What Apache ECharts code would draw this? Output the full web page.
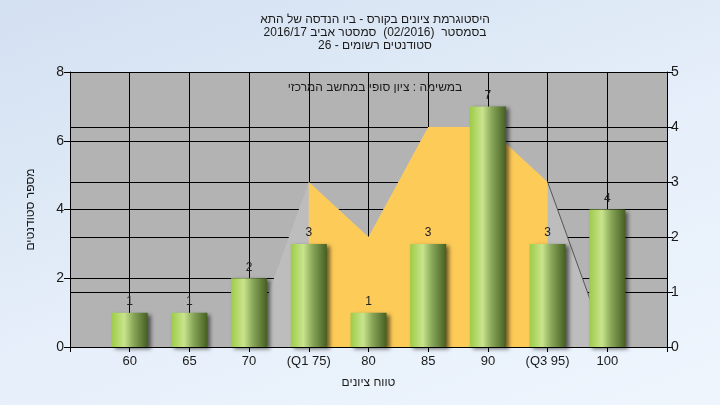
<!DOCTYPE html>
<html>
<head>
<meta charset="utf-8">
<script src="https://cdn.jsdelivr.net/npm/echarts@6/dist/echarts.min.js"></script>
<style>
html,body{margin:0;padding:0;}
#c{width:720px;height:405px;background:linear-gradient(160deg,#d3e0f1 0%,#e6effa 55%,#eef5fd 100%);}
</style>
</head>
<body>
<div id="c"></div>
<script>
var categories = ["", "60", "65", "70", "(Q1 75)", "80", "85", "90", "(Q3 95)", "100", ""];
var counts = ["-", 1, 1, 2, 3, 1, 3, 7, 3, 4, "-"];
var iqrArea = ["-", "-", "-", "-", 3, 2, 4, 4, 3, "-", "-"];
var rangeArea = ["-", "-", "-", 0, 3, 2, 4, 4, 3, 0, "-"];
var rangeEdge = ["-", "-", "-", "-", "-", "-", "-", "-", 3, 0, "-"];
var leftTicks = [0, 8, 2];
var rightTicks = [0, 5, 1];
var titleLines = ["היסטוגרמת ציונים בקורס - ביו הנדסה של התא", "בסמסטר  (02/2016)  סמסטר אביב 2016/17", "סטודנטים רשומים - 26"];
var subTitle = "במשימה : ציון סופי במחשב המרכזי";
var xName = "טווח ציונים";
var yName = "מספר סטודנטים";

var FONT = "Liberation Sans, Arial, sans-serif";
var chart = echarts.init(document.getElementById('c'), null, {renderer: 'canvas'});
var barGrad = new echarts.graphic.LinearGradient(0, 0, 1, 0, [
  {offset: 0, color: '#9dcc48'},
  {offset: 0.35, color: '#c9e48c'},
  {offset: 0.6, color: '#89a85a'},
  {offset: 1, color: '#465f22'}
]);
chart.setOption({
  backgroundColor: 'transparent',
  animation: false,
  title: [
    {text: titleLines.join('\n'), left: 370, top: 8, textAlign: 'center',
     textStyle: {fontFamily: FONT, fontSize: 12, fontWeight: 'normal', color: '#1a1a1a', lineHeight: 13}},
    {text: subTitle, left: 370, top: 77, textAlign: 'center',
     textStyle: {fontFamily: FONT, fontSize: 12, fontWeight: 'normal', color: '#1a1a1a'}}
  ],
  grid: {left: 70, right: 53, top: 72, bottom: 58, containLabel: false},
  xAxis: {
    type: 'category', data: categories, boundaryGap: false,
    name: xName, nameLocation: 'middle', nameGap: 30,
    nameTextStyle: {fontFamily: FONT, fontSize: 12, color: '#1a1a1a'},
    axisLine: {lineStyle: {color: '#000', width: 1}},
    axisTick: {show: true, length: 5, lineStyle: {color: '#000'}, interval: 0},
    axisLabel: {interval: 0, fontFamily: FONT, fontSize: 13, color: '#1a1a1a', margin: 8},
    splitLine: {show: true, interval: 0, lineStyle: {color: '#000', width: 1}}
  },
  yAxis: [
    {type: 'value', min: leftTicks[0], max: leftTicks[1], interval: leftTicks[2],
     name: yName, nameLocation: 'middle', nameGap: 33, nameRotate: 90,
     nameTextStyle: {fontFamily: FONT, fontSize: 12, color: '#1a1a1a'},
     axisLine: {show: true, lineStyle: {color: '#000'}},
     axisTick: {show: true, length: 6, lineStyle: {color: '#000'}},
     axisLabel: {fontFamily: FONT, fontSize: 14, color: '#1a1a1a', margin: 6},
     splitLine: {show: true, lineStyle: {color: '#000', width: 1}},
     splitArea: {show: true, areaStyle: {color: ['#b3b3b3']}}
    },
    {type: 'value', min: rightTicks[0], max: rightTicks[1], interval: rightTicks[2], position: 'right',
     axisLine: {show: true, lineStyle: {color: '#000'}},
     axisTick: {show: true, length: 6, lineStyle: {color: '#000'}},
     axisLabel: {fontFamily: FONT, fontSize: 14, color: '#1a1a1a', margin: 4},
     splitLine: {show: true, lineStyle: {color: '#000', width: 1}}
    }
  ],
  series: [
    {type: 'line', yAxisIndex: 1, data: rangeArea, symbol: 'none', z: 1,
     lineStyle: {width: 0}, areaStyle: {color: '#bdbdbd', opacity: 1}},
    {type: 'line', yAxisIndex: 1, data: iqrArea, symbol: 'none', z: 2,
     lineStyle: {width: 0}, areaStyle: {color: '#fdcb57', opacity: 1}},
    {type: 'line', yAxisIndex: 1, data: rangeEdge, symbol: 'none', z: 2,
     lineStyle: {width: 1, color: '#555'}},
    {type: 'bar', yAxisIndex: 0, data: counts, barWidth: 36, z: 3,
     itemStyle: {color: barGrad, shadowColor: 'rgba(0,0,0,0.55)', shadowBlur: 4, shadowOffsetX: 3, shadowOffsetY: 2},
     label: {show: true, position: 'top', distance: 5, fontFamily: FONT, fontSize: 12, color: '#222'}}
  ]
});
</script>
</body>
</html>
